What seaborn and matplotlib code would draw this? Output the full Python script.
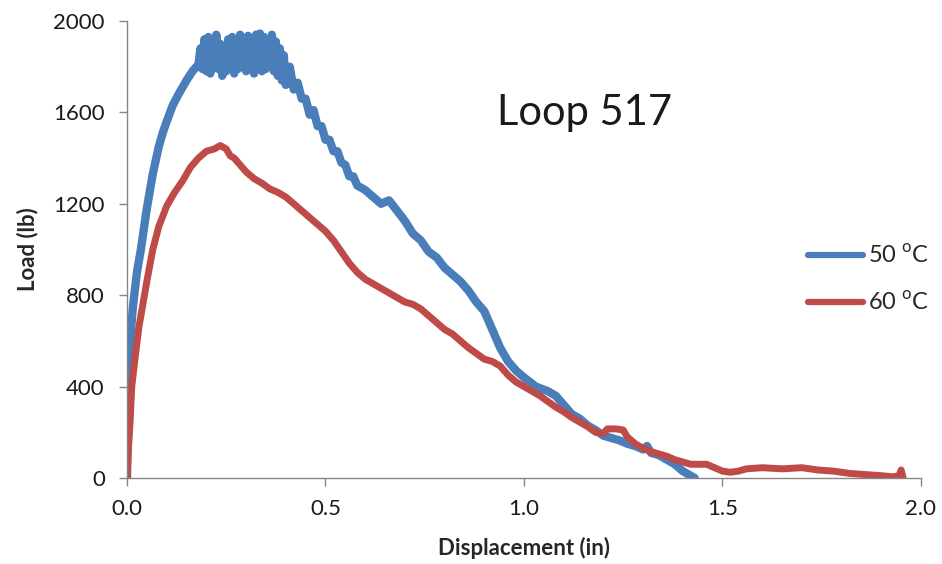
import pandas as pd
import matplotlib.pyplot as plt
import seaborn as sns

# 50 C test (zigzag around the peak is the noisy band)
blue_x = [0, 0.003, 0.008, 0.015, 0.025, 0.035, 0.05, 0.065, 0.08, 0.09, 0.1, 0.115, 0.13, 0.15, 0.165, 0.18,
          0.185, 0.19, 0.195, 0.2, 0.205, 0.21, 0.215, 0.22, 0.225, 0.23, 0.235, 0.24, 0.245, 0.25, 0.255, 0.26,
          0.265, 0.27, 0.275, 0.28, 0.285, 0.29, 0.295, 0.3, 0.305, 0.31, 0.315, 0.32, 0.325, 0.33, 0.335, 0.34,
          0.345, 0.35, 0.355, 0.36, 0.365, 0.37, 0.375, 0.38, 0.385, 0.39, 0.395, 0.4,
          0.41, 0.42, 0.43, 0.44, 0.45, 0.46, 0.47, 0.48, 0.49, 0.5, 0.51, 0.52, 0.53, 0.54, 0.55, 0.56, 0.57, 0.58,
          0.6, 0.62, 0.64, 0.66, 0.68, 0.7, 0.72, 0.74, 0.76, 0.78, 0.8, 0.82, 0.84, 0.86, 0.88, 0.9, 0.92, 0.94,
          0.96, 0.98, 1.0, 1.03, 1.06, 1.08, 1.1, 1.12, 1.14, 1.16, 1.18, 1.2, 1.22, 1.24, 1.26, 1.28, 1.3, 1.31,
          1.32, 1.34, 1.36, 1.38, 1.4, 1.42, 1.43]
blue_y = [0, 250, 600, 750, 900, 1000, 1180, 1330, 1450, 1510, 1560, 1630, 1680, 1740, 1780, 1810,
          1880, 1790, 1920, 1780, 1930, 1770, 1910, 1800, 1940, 1790, 1900, 1760, 1890, 1780, 1920, 1800,
          1930, 1770, 1910, 1790, 1940, 1800, 1920, 1780, 1935, 1790, 1910, 1770, 1940, 1800, 1945, 1780,
          1930, 1790, 1920, 1800, 1940, 1780, 1910, 1760, 1880, 1740, 1850, 1720,
          1800, 1700, 1730, 1660, 1660, 1590, 1610, 1540, 1540, 1480, 1480, 1430, 1430, 1380, 1370, 1320, 1320, 1280,
          1260, 1230, 1200, 1215, 1170, 1125, 1070, 1040, 990, 965, 920, 890, 860, 820, 770, 730, 650, 570,
          510, 470, 440, 400, 380, 360, 320, 280, 260, 230, 210, 185, 175, 165, 150, 140, 125, 140,
          110, 100, 80, 60, 30, 10, 0]

# 60 C test
red_x = [0, 0.003, 0.008, 0.012, 0.02, 0.03, 0.04, 0.05, 0.065, 0.08, 0.1, 0.12, 0.14, 0.16, 0.18, 0.2, 0.22,
         0.235, 0.25, 0.26, 0.27, 0.28, 0.3, 0.32, 0.34, 0.36, 0.38, 0.4, 0.42, 0.44, 0.46, 0.48, 0.5, 0.52, 0.54,
         0.56, 0.58, 0.6, 0.62, 0.64, 0.66, 0.68, 0.7, 0.72, 0.74, 0.76, 0.78, 0.8, 0.82, 0.84, 0.86, 0.88, 0.9,
         0.92, 0.94, 0.96, 0.98, 1.0, 1.02, 1.04, 1.06, 1.08, 1.1, 1.12, 1.14, 1.16, 1.18, 1.2, 1.21, 1.23, 1.25,
         1.26, 1.28, 1.3, 1.32, 1.34, 1.36, 1.38, 1.4, 1.42, 1.44, 1.46, 1.48, 1.5, 1.52, 1.54, 1.56, 1.6, 1.65,
         1.7, 1.74, 1.78, 1.82, 1.86, 1.9, 1.93, 1.945, 1.95, 1.955]
red_y = [0, 110, 250, 400, 520, 660, 760, 860, 1000, 1100, 1190, 1250, 1300, 1360, 1400, 1430, 1440,
         1455, 1440, 1410, 1400, 1380, 1340, 1310, 1290, 1265, 1250, 1230, 1200, 1170, 1140, 1110, 1080, 1040, 990,
         940, 900, 870, 850, 830, 810, 790, 770, 760, 740, 710, 680, 650, 630, 600, 570, 545, 520,
         510, 490, 450, 420, 400, 380, 360, 335, 310, 290, 265, 245, 225, 200, 195, 215, 215, 210,
         180, 150, 130, 115, 105, 95, 80, 70, 60, 60, 60, 45, 30, 25, 30, 40, 45, 40,
         45, 35, 30, 20, 15, 10, 5, 10, 35, 0]

labels = [r'50 $^{\mathrm{o}}$C', r'60 $^{\mathrm{o}}$C']
colors = ['#4A7EBB', '#BE4B48']
x_ticks = [0.0, 0.5, 1.0, 1.5, 2.0]
y_ticks = [0, 400, 800, 1200, 1600, 2000]

df = pd.concat([
    pd.DataFrame({'disp': blue_x, 'load': blue_y, 'test': labels[0]}),
    pd.DataFrame({'disp': red_x, 'load': red_y, 'test': labels[1]}),
])

sns.set_style('ticks')
plt.rcParams['font.family'] = ['Lato', 'DejaVu Sans']
plt.rcParams['mathtext.fontset'] = 'custom'
plt.rcParams['mathtext.rm'] = 'Lato'

fig, ax = plt.subplots(figsize=(9.42, 5.64), dpi=100)
fig.subplots_adjust(left=0.1348, right=0.9777, bottom=0.1525, top=0.9628)

sns.lineplot(data=df, x='disp', y='load', hue='test', palette=colors, sort=False,
             estimator=None, units='test', lw=4, ax=ax)
for line, w in zip(ax.get_lines(), [6.0, 5.0]):
    line.set_linewidth(w)
    line.set_solid_capstyle('round')

ax.set_xlim(0, 2.0)
ax.set_ylim(0, 2000)
ax.set_xticks(x_ticks)
ax.set_xticklabels([f'{t:.1f}' for t in x_ticks])
ax.set_yticks(y_ticks)
ax.tick_params(labelsize=16, colors='#868686', labelcolor='#1a1a1a', length=6, width=1, direction='out')
ax.tick_params(axis='x', pad=9)
ax.tick_params(axis='y', pad=10)
for side in ['left', 'bottom']:
    ax.spines[side].set_color('#868686')
    ax.spines[side].set_linewidth(1)
sns.despine(ax=ax)

ax.set_xlabel('Displacement (in)', fontsize=16, fontweight='bold')
ax.set_ylabel('Load (lb)', fontsize=16, fontweight='bold')
ax.xaxis.set_label_coords(0.5, -0.128)
ax.yaxis.set_label_coords(-0.112, 0.5)

ax.text(0.932, 1597, 'Loop 517', fontsize=30, va='center', ha='left', color='#1a1a1a')

leg = ax.legend(loc='center left', bbox_to_anchor=(0.858, 0.435), frameon=False, fontsize=17,
                handlelength=2.3, handletextpad=0.25, labelspacing=1.0, borderpad=0, borderaxespad=0)
for h in leg.get_lines():
    h.set_linewidth(4.5)
    h.set_solid_capstyle('round')

plt.savefig('out.png', dpi=100)
